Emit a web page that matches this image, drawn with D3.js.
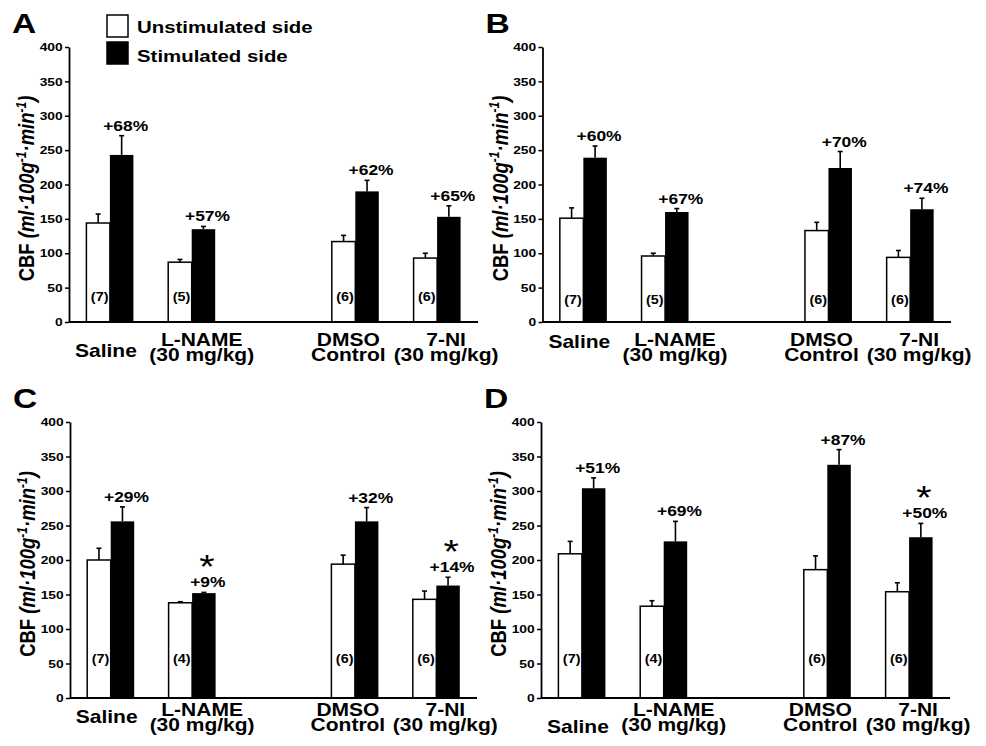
<!DOCTYPE html>
<html>
<head>
<meta charset="utf-8">
<script src="https://cdn.jsdelivr.net/npm/d3@7"></script>
<style>
  body { margin: 0; background: #fff; }
  text { font-family: "Liberation Sans", Arial, sans-serif; font-weight: bold; fill: #000; }
</style>
</head>
<body>
<svg id="chart" width="986" height="746"></svg>
<script>
// ---- data ----
var categories = ["Saline", "L-NAME", "DMSO", "7-NI"];
var categoryLines = [["Saline"], ["L-NAME", "(30 mg/kg)"], ["DMSO", "Control"], ["7-NI", "(30 mg/kg)"]];
var seriesNames = ["Unstimulated side", "Stimulated side"];
var yTicks = [0, 50, 100, 150, 200, 250, 300, 350, 400];
var panelLetters = ["A", "B", "C", "D"];

var unstimA = [144, 87, 117, 93],  unstimErrA = [13, 4, 9, 7];
var stimA   = [243, 135, 190, 153], stimErrA  = [28, 4, 16, 16];
var pctA = ["+68%", "+57%", "+62%", "+65%"], nA = [7, 5, 6, 6], starA = [0, 0, 0, 0];

var unstimB = [151, 96, 133, 94],  unstimErrB = [15, 4, 12, 10];
var stimB   = [239, 160, 224, 164], stimErrB  = [17, 5, 24, 16];
var pctB = ["+60%", "+67%", "+70%", "+74%"], nB = [7, 5, 6, 6], starB = [0, 0, 0, 0];

var unstimC = [200, 138, 194, 143], unstimErrC = [17, 1.5, 13, 12];
var stimC   = [256, 152, 256, 163], stimErrC  = [21, 1, 20, 12];
var pctC = ["+29%", "+9%", "+32%", "+14%"], nC = [7, 4, 6, 6], starC = [0, 1, 0, 1];

var unstimD = [209, 133, 186, 154], unstimErrD = [18, 8, 20, 13];
var stimD   = [304, 227, 338, 233], stimErrD  = [15, 29, 22, 20];
var pctD = ["+51%", "+69%", "+87%", "+50%"], nD = [7, 4, 6, 6], starD = [0, 0, 0, 1];

var panels = [
  {unstim: unstimA, uErr: unstimErrA, stim: stimA, sErr: stimErrA, pct: pctA, n: nA, star: starA},
  {unstim: unstimB, uErr: unstimErrB, stim: stimB, sErr: stimErrB, pct: pctB, n: nB, star: starB},
  {unstim: unstimC, uErr: unstimErrC, stim: stimC, sErr: stimErrC, pct: pctC, n: nC, star: starC},
  {unstim: unstimD, uErr: unstimErrD, stim: stimD, sErr: stimErrD, pct: pctD, n: nD, star: starD}
];

// ---- layout ----
var SX = 1.2; // the scanned figure is stretched sideways
var frames = [
  {left: 69,  right: 478, top: 47,  bottom: 322, singleDy: 35, lineDy: [24, 39], nDy: 21},
  {left: 542.5, right: 951, top: 47, bottom: 322, singleDy: 26, lineDy: [24, 39], nDy: 18},
  {left: 70,  right: 477, top: 422, bottom: 698, singleDy: 24.5, lineDy: [18, 32.5], nDy: 35},
  {left: 541, right: 950, top: 422, bottom: 698, singleDy: 34.5, lineDy: [18, 32.5], nDy: 35}
];
var labelShift = {"Saline": -4, "L-NAME": 10, "DMSO": -7, "7-NI": 9};
var pairW = 47;

var svg = d3.select("#chart");

function txt(g, x, y, s, size, anchor) {
  return g.append("text")
      .attr("transform", "translate(" + x + "," + y + ") scale(" + SX + ",1)")
      .attr("text-anchor", anchor || "middle")
      .style("font-size", size + "px")
      .text(s);
}

panels.forEach(function(p, pi) {
  var f = frames[pi];
  var g = svg.append("g");

  var x0 = d3.scaleBand()
      .domain([categories[0], categories[1], "_gap", categories[2], categories[3]])
      .range([f.left, f.right]);
  var x1 = d3.scaleBand().domain(["u", "s"]).range([0, pairW]);
  var y = d3.scaleLinear().domain([0, 400]).range([f.bottom, f.top]);

  var rows = categories.map(function(c, i) {
    return {cat: c, i: i, u: p.unstim[i], ue: p.uErr[i], s: p.stim[i], se: p.sErr[i],
            pct: p.pct[i], n: p.n[i], star: p.star[i]};
  });
  function gx(d) { return x0(d.cat) + x0.bandwidth() / 2 - pairW / 2; }

  // bars
  g.selectAll(".ubar").data(rows).enter().append("rect")
      .attr("x", function(d) { return gx(d) + x1("u"); })
      .attr("y", function(d) { return y(d.u); })
      .attr("width", x1.bandwidth())
      .attr("height", function(d) { return y(0) - y(d.u); })
      .attr("fill", "#fff").attr("stroke", "#000").attr("stroke-width", 1.5);
  g.selectAll(".sbar").data(rows).enter().append("rect")
      .attr("x", function(d) { return gx(d) + x1("s"); })
      .attr("y", function(d) { return y(d.s); })
      .attr("width", x1.bandwidth())
      .attr("height", function(d) { return y(0) - y(d.s); })
      .attr("fill", "#000");

  // error bars (upper half only)
  rows.forEach(function(d) {
    [["u", d.u, d.ue], ["s", d.s, d.se]].forEach(function(e) {
      var cx = gx(d) + x1(e[0]) + x1.bandwidth() / 2;
      g.append("line").attr("x1", cx).attr("x2", cx)
          .attr("y1", y(e[1])).attr("y2", y(e[1] + e[2]))
          .attr("stroke", "#000").attr("stroke-width", 1.6);
      g.append("line").attr("x1", cx - 2.5).attr("x2", cx + 2.5)
          .attr("y1", y(e[1] + e[2])).attr("y2", y(e[1] + e[2]))
          .attr("stroke", "#000").attr("stroke-width", 1.6);
    });
  });

  // percent labels (with asterisk above when significant) and n
  rows.forEach(function(d) {
    var sx = gx(d) + x1("s") + x1.bandwidth() / 2;
    var top = y(d.s + d.se);
    if (d.star) {
      var st = g.append("text")
          .attr("transform", "translate(" + (sx + 4) + "," + (top - 5) + ") scale(" + SX + ",1)")
          .attr("text-anchor", "middle");
      st.append("tspan").attr("x", -0.8).attr("dy", -9)
          .style("font-size", "33px").style("font-weight", "normal").text("*");
      st.append("tspan").attr("x", 0).attr("dy", 9)
          .style("font-size", "14.5px").text(d.pct);
    } else {
      txt(g, sx + 4, top - 5, d.pct, 14.5);
    }
    var ux = gx(d) + x1("u") + x1.bandwidth() / 2;
    txt(g, ux + 1.5, f.bottom - f.nDy, "(" + d.n + ")", 12);
  });

  // axes
  var ax = g.append("g")
      .attr("transform", "translate(" + f.left + ",0)")
      .call(d3.axisLeft(y).tickValues(yTicks).tickSize(4).tickPadding(1.3).tickSizeOuter(0));
  ax.select(".domain").attr("stroke-width", 1.8);
  ax.selectAll(".tick line").attr("stroke-width", 1.5);
  ax.selectAll(".tick text")
      .attr("transform", "scale(" + SX + ",1)")
      .style("font-size", "11.5px")
      .attr("font-family", null);
  g.append("line")
      .attr("x1", f.left).attr("x2", f.right)
      .attr("y1", y(0)).attr("y2", y(0))
      .attr("stroke", "#000").attr("stroke-width", 1.8);

  // category labels, one text per category
  categories.forEach(function(c, i) {
    var cx = x0(c) + x0.bandwidth() / 2 + labelShift[c];
    var lines = categoryLines[i];
    if (lines.length === 1) {
      txt(g, cx, f.bottom + f.singleDy, lines[0], 17.5);
    } else {
      var ct = txt(g, cx, f.bottom + f.lineDy[0], "", 17.5);
      lines.forEach(function(l, k) {
        ct.append("tspan").attr("x", 0)
            .attr("dy", k ? f.lineDy[k] - f.lineDy[k - 1] : 0).text(l);
      });
    }
  });

  // y title
  var mid = (f.top + f.bottom) / 2 + 4;
  var t = g.append("text")
      .attr("transform", "translate(" + (f.left - 35) + "," + mid + ") scale(" + SX + ",1) rotate(-90)")
      .attr("text-anchor", "middle")
      .style("font-size", "18.5px");
  t.append("tspan").text("CBF ");
  t.append("tspan").style("font-style", "italic").text("(ml\u00b7100g");
  t.append("tspan").style("font-style", "italic").style("font-size", "12px").attr("dy", -7).text("-1");
  t.append("tspan").style("font-style", "italic").attr("dy", 7).text("\u00b7min");
  t.append("tspan").style("font-style", "italic").style("font-size", "12px").attr("dy", -7).text("-1");
  t.append("tspan").style("font-style", "italic").attr("dy", 7).text(")");

  // panel letter
  txt(g, f.left - 57, f.top - 14, panelLetters[pi], 28, "start");
});

// legend (panel A only)
var leg = svg.append("g");
seriesNames.forEach(function(s, i) {
  leg.append("rect")
      .attr("x", 107).attr("y", 15 + i * 27)
      .attr("width", 21).attr("height", 22)
      .attr("fill", i ? "#000" : "#fff")
      .attr("stroke", "#000").attr("stroke-width", 1.5);
  txt(leg, 137, 33 + i * 29, s, 17, "start");
});
</script>
</body>
</html>
